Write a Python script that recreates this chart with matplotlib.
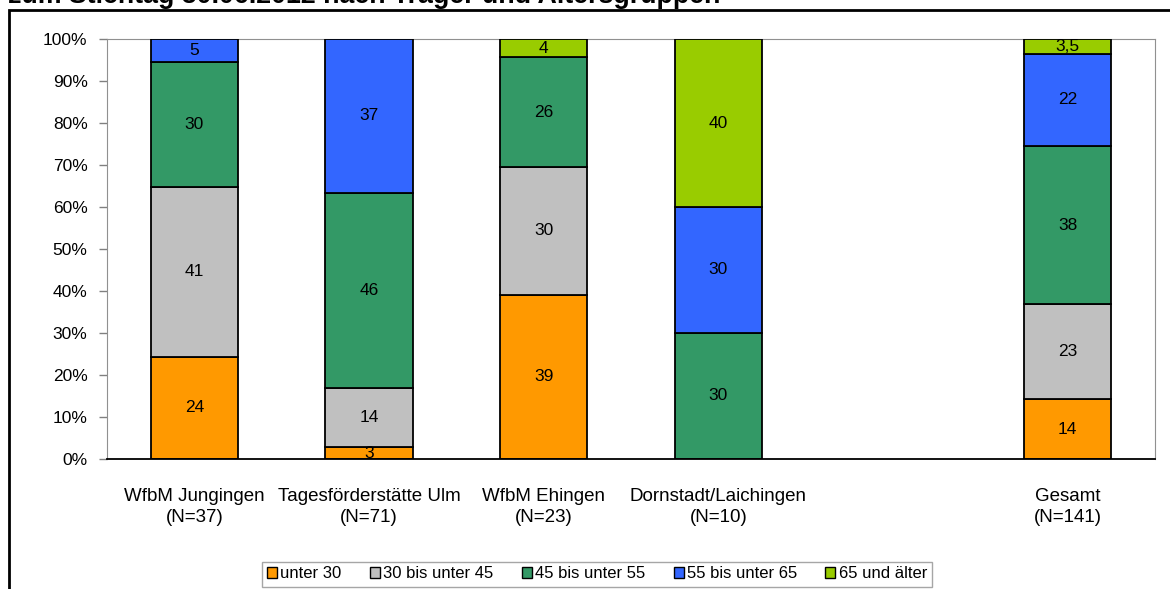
import matplotlib.pyplot as plt
from matplotlib.patches import Rectangle

# 1. DATA --------------------------------------------------------------
categories = ["WfbM Jungingen\n(N=37)", "Tagesförderstätte Ulm\n(N=71)",
              "WfbM Ehingen\n(N=23)", "Dornstadt/Laichingen\n(N=10)",
              "", "Gesamt\n(N=141)"]
groups = ["unter 30", "30 bis unter 45", "45 bis unter 55",
          "55 bis unter 65", "65 und älter"]

# percentage shares per age group (one value per category)
unter30 = [24.3, 2.8, 39.1, 0, 0, 14.2]
bis45 = [40.5, 14.1, 30.4, 0, 0, 22.7]
bis55 = [29.7, 46.5, 26.1, 30, 0, 37.6]
bis65 = [5.4, 36.6, 0, 30, 0, 22.0]
ab65 = [0, 0, 4.3, 40, 0, 3.5]

# labels as printed in the segments
lab_unter30 = ["24", "3", "39", "", "", "14"]
lab_bis45 = ["41", "14", "30", "", "", "23"]
lab_bis55 = ["30", "46", "26", "30", "", "38"]
lab_bis65 = ["5", "37", "", "30", "", "22"]
lab_ab65 = ["", "", "4", "40", "", "3,5"]

yticks = [0, 10, 20, 30, 40, 50, 60, 70, 80, 90, 100]
title = "zum Stichtag 30.06.2012 nach Träger und Altersgruppen"

# 2. STYLE -------------------------------------------------------------
plt.rcParams["font.family"] = ["Liberation Sans", "DejaVu Sans"]
colors = ["#FF9900", "#C0C0C0", "#339966", "#3366FF", "#99CC00"]
W, H = 1170, 589

fig = plt.figure(figsize=(W / 100, H / 100), dpi=100)
ax = fig.add_axes([107 / W, (H - 459) / H, (1155 - 107) / W, 420 / H])

# 3. PLOT --------------------------------------------------------------
x = list(range(len(categories)))
series = [unter30, bis45, bis55, bis65, ab65]
labels = [lab_unter30, lab_bis45, lab_bis55, lab_bis65, lab_ab65]
bottom = [0.0] * len(categories)
handles = []
for vals, labs, col, name in zip(series, labels, colors, groups):
    for i, v in enumerate(vals):
        if v > 0:
            ax.bar(x[i], v, 0.5, bottom=bottom[i], color=col,
                   edgecolor="black", linewidth=1.3, zorder=3)
            if labs[i]:
                ax.text(x[i], bottom[i] + v / 2, labs[i], ha="center",
                        va="center", fontsize=12.5, zorder=4)
        bottom[i] += v
    handles.append(Rectangle((0, 0), 1, 1, facecolor=col,
                             edgecolor="black", linewidth=1))

ax.set_xlim(-0.5, len(categories) - 0.5)
ax.set_ylim(0, 100)
ax.set_yticks(yticks)
ax.set_yticklabels([f"{t}%" for t in yticks], fontsize=12.5)
ax.set_xticks(x)
ax.set_xticklabels(categories, fontsize=13.5, linespacing=1.3)
ax.tick_params(axis="x", length=0, pad=21)
ax.tick_params(axis="y", length=6, color="#808080", width=1, pad=8)
for s in ["left", "top", "right"]:
    ax.spines[s].set_color("#909090")
ax.spines["bottom"].set_color("black")
ax.spines["bottom"].set_linewidth(1.3)
ax.spines["bottom"].set_zorder(5)

leg = fig.legend(handles, groups, ncol=5, loc="center",
                 bbox_to_anchor=(597 / W, (H - 574) / H), fontsize=12,
                 frameon=True, fancybox=False, handlelength=0.6,
                 handleheight=0.6, handletextpad=0.2, columnspacing=1.7,
                 borderpad=0.3, edgecolor="#909090")
leg.get_frame().set_linewidth(1)

# outer frame and cut-off title (the reference crops it at the top)
fig.patches.append(Rectangle((9 / W, -0.1), 1.2, (H - 10) / H + 0.1,
                             transform=fig.transFigure, fill=False,
                             edgecolor="black", linewidth=2))
fig.text(8 / W, (H - 3) / H, title, fontsize=19.3, fontweight="bold",
         va="baseline", ha="left")

fig.savefig("out.png", dpi=100)
